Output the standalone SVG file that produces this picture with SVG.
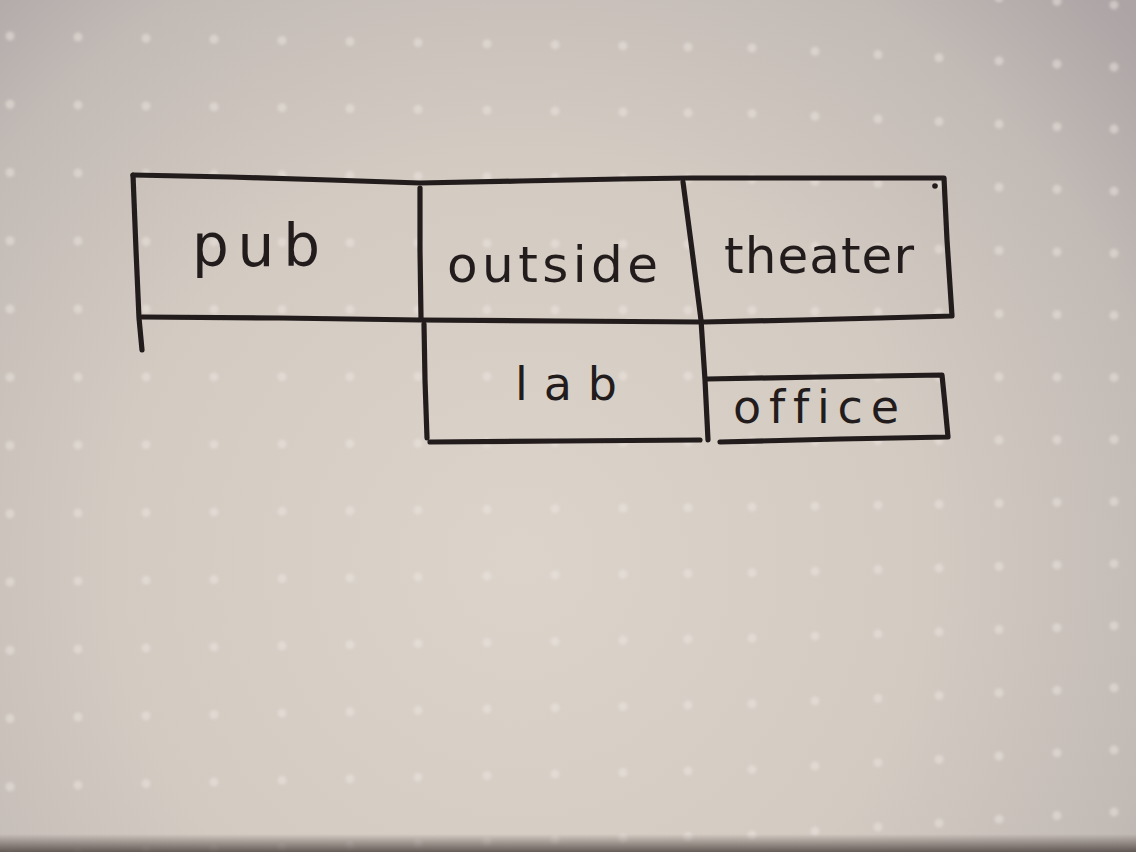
<svg xmlns="http://www.w3.org/2000/svg" width="1136" height="852" viewBox="0 0 1136 852">
  <defs>
    <radialGradient id="paper" cx="520" cy="560" r="820" gradientUnits="userSpaceOnUse">
      <stop offset="0" stop-color="#dcd4cb"/>
      <stop offset="0.5" stop-color="#d3cac2"/>
      <stop offset="0.8" stop-color="#c2bab5"/>
      <stop offset="1" stop-color="#aca4a5"/>
    </radialGradient>
    <linearGradient id="edge" x1="0" y1="834" x2="0" y2="852" gradientUnits="userSpaceOnUse">
      <stop offset="0" stop-color="#4a403d" stop-opacity="0"/>
      <stop offset="1" stop-color="#4a403d" stop-opacity="0.8"/>
    </linearGradient>
    <filter id="soft" x="-5%" y="-5%" width="110%" height="110%">
      <feGaussianBlur stdDeviation="1.8"/>
    </filter>
    <filter id="ink" x="-2%" y="-2%" width="104%" height="104%">
      <feGaussianBlur stdDeviation="0.5"/>
    </filter>
    <style>
      .dots line { stroke: #eee8e2; stroke-opacity: 0.5; stroke-width: 9; stroke-linecap: round; }
      .wall { fill: none; stroke: #221c1c; stroke-width: 5.2; stroke-linecap: round; stroke-linejoin: round; }
      .label { font-family: "DejaVu Sans", "Liberation Sans", sans-serif; fill: #221c1c; font-variant-ligatures: none; font-feature-settings: "liga" 0, "clig" 0; }
    </style>
  </defs>

  <!-- dotted notebook paper -->
  <rect width="1136" height="852" fill="url(#paper)"/>
  <g class="dots" filter="url(#soft)">
    <line x1="10" y1="-32.25" x2="10" y2="856" stroke-dasharray="0 68.25"/>
    <line x1="78" y1="-30.9" x2="78" y2="854.1" stroke-dasharray="0 68"/>
    <line x1="146" y1="-29.56" x2="146" y2="852.3" stroke-dasharray="0 67.76"/>
    <line x1="214" y1="-28.22" x2="214" y2="850.5" stroke-dasharray="0 67.52"/>
    <line x1="282" y1="-26.87" x2="282" y2="848.6" stroke-dasharray="0 67.27"/>
    <line x1="350" y1="-25.53" x2="350" y2="846.9" stroke-dasharray="0 67.03"/>
    <line x1="418" y1="-24.18" x2="418" y2="845" stroke-dasharray="0 66.78"/>
    <line x1="487" y1="-22.84" x2="487" y2="843.2" stroke-dasharray="0 66.54"/>
    <line x1="555" y1="-21.49" x2="555" y2="841.3" stroke-dasharray="0 66.29"/>
    <line x1="623" y1="-20.15" x2="623" y2="839.5" stroke-dasharray="0 66.05"/>
    <line x1="688" y1="-18.81" x2="688" y2="837.7" stroke-dasharray="0 65.81"/>
    <line x1="752" y1="-17.58" x2="752" y2="836" stroke-dasharray="0 65.58"/>
    <line x1="815" y1="-13.68" x2="815" y2="832.1" stroke-dasharray="0 64.98"/>
    <line x1="878" y1="-9.77" x2="878" y2="828" stroke-dasharray="0 64.37"/>
    <line x1="939" y1="-5.98" x2="939" y2="824.2" stroke-dasharray="0 63.78"/>
    <line x1="999" y1="-2.29" x2="999" y2="820.2" stroke-dasharray="0 63.19"/>
    <line x1="1057" y1="1.37" x2="1057" y2="816.6" stroke-dasharray="0 62.63"/>
    <line x1="1114" y1="4.92" x2="1114" y2="813" stroke-dasharray="0 62.08"/>
  </g>
  <rect y="834" width="1136" height="18" fill="url(#edge)"/>

  <!-- ink walls of the floor plan -->
  <g id="walls" filter="url(#ink)">
    <path class="wall" d="M133,175 L230,177 L330,180 L420,183 L520,181 L620,179 L690,178 L800,178 L900,178 L944,178 L947,240 L952,316 L880,318 L800,320 L703,322"/>
    <path class="wall" d="M133,175 L136,250 L139,318 L142,350"/>
    <path class="wall" d="M142,317 L280,318 L420,320 L560,321 L702,322"/>
    <path class="wall" d="M420,188 L420,250 L421,318"/>
    <path class="wall" d="M424,324 L425,380 L427,438"/>
    <path class="wall" d="M430,442 L560,441 L700,440"/>
    <path class="wall" d="M683,182 L692,250 L701,320 L705,380 L708,440"/>
    <path class="wall" d="M707,379 L820,377 L942,375 L945,405 L948,437 L840,439 L720,442"/>
    <circle cx="935" cy="186" r="2.8" fill="#221c1c"/>
  </g>

  <g id="pub">
    <text class="label" x="192" y="266" font-size="58" textLength="128" lengthAdjust="spacing">pub</text>
  </g>
  <g id="outside">
    <text class="label" x="447" y="282" font-size="50" textLength="211" lengthAdjust="spacing">outside</text>
  </g>
  <g id="theater">
    <text class="label" x="724" y="273" font-size="50" textLength="190" lengthAdjust="spacing">theater</text>
  </g>
  <g id="lab">
    <text class="label" x="515" y="400" font-size="46" textLength="102" lengthAdjust="spacing">lab</text>
  </g>
  <g id="office">
    <text class="label" x="733" y="423" font-size="46" textLength="166" lengthAdjust="spacing">office</text>
  </g>
</svg>
